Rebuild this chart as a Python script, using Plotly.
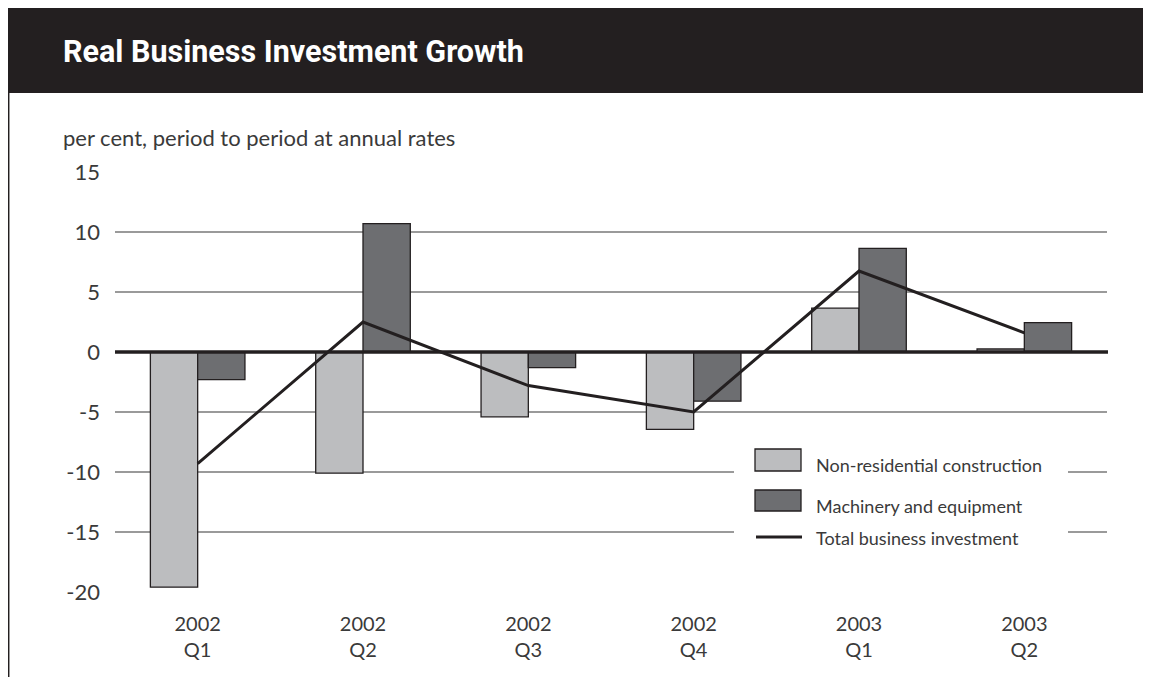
import plotly.graph_objects as go

categories = ["2002<br>Q1", "2002<br>Q2", "2002<br>Q3", "2002<br>Q4", "2003<br>Q1", "2003<br>Q2"]
non_residential = [-19.6, -10.1, -5.4, -6.45, 3.65, 0.25]
machinery = [-2.3, 10.7, -1.3, -4.1, 8.64, 2.45]
total = [-9.3, 2.5, -2.8, -5.0, 6.75, 1.6]
y_ticks = [15, 10, 5, 0, -5, -10, -15, -20]

OFF = 8  # page body margin
W, H = 1143, 669
L, R, T, B = 107, 44, 164, 85
pw, ph = W - L - R, H - T - B

def px(x):
    # screen x -> paper x
    return (x - OFF - L) / pw

def py(y):
    # screen y -> paper y
    return (H - B - (y - OFF)) / ph

def cx(x):
    # screen x -> category coordinate
    return (x - OFF - L) / (pw / len(categories)) - 0.5

def dy(y):
    # screen y -> data y
    return 15 - (y - OFF - T) / ph * 35

DARK = "#231f20"
TXT = "#3a3a3a"
LIGHT_BAR = "#bcbdbf"
DARK_BAR = "#6d6e71"

fig = go.Figure()
fig.add_trace(go.Bar(x=categories, y=non_residential, name="Non-residential construction",
                     marker=dict(color=LIGHT_BAR, line=dict(color=DARK, width=1.3))))
fig.add_trace(go.Bar(x=categories, y=machinery, name="Machinery and equipment",
                     marker=dict(color=DARK_BAR, line=dict(color=DARK, width=1.3))))
fig.add_trace(go.Scatter(x=categories, y=total, name="Total business investment", mode="lines",
                         line=dict(color=DARK, width=3)))

shapes = []
# title bar
shapes.append(dict(type="rect", xref="paper", yref="paper", x0=px(7), x1=px(1170), y0=py(93), y1=py(6),
                   fillcolor=DARK, line=dict(width=0), layer="above"))
# left border line
shapes.append(dict(type="line", xref="paper", yref="paper", x0=px(8.7), x1=px(8.7), y0=py(93), y1=py(700),
                   line=dict(color=DARK, width=1.5)))
# white mask behind legend (covers gridlines)
shapes.append(dict(type="rect", xref="x", yref="y", x0=cx(734), x1=cx(1068), y0=dy(556), y1=dy(440),
                   fillcolor="white", line=dict(width=0), layer="between"))
# legend swatches
shapes.append(dict(type="rect", xref="paper", yref="paper", x0=px(755), x1=px(801), y0=py(471), y1=py(449),
                   fillcolor=LIGHT_BAR, line=dict(color=DARK, width=1.3)))
shapes.append(dict(type="rect", xref="paper", yref="paper", x0=px(755), x1=px(801), y0=py(511), y1=py(490),
                   fillcolor=DARK_BAR, line=dict(color=DARK, width=1.3)))
shapes.append(dict(type="line", xref="paper", yref="paper", x0=px(756), x1=px(802), y0=py(537), y1=py(537),
                   line=dict(color=DARK, width=3)))
# zero line
shapes.append(dict(type="line", xref="paper", yref="y", x0=0, x1=1.001, y0=0, y1=0,
                   line=dict(color=DARK, width=3.5), layer="above"))

annotations = [
    dict(text="<b>Real Business Investment Growth</b>", xref="paper", yref="paper", x=px(61), y=py(52),
         xanchor="left", yanchor="middle", showarrow=False,
         font=dict(family="Roboto", size=30.5, color="white")),
    dict(text="per cent, period to period at annual rates", xref="paper", yref="paper", x=px(61), y=py(137),
         xanchor="left", yanchor="middle", showarrow=False,
         font=dict(family="Lato", size=22, color=TXT)),
]
for label, yc in [("Non-residential construction", 465), ("Machinery and equipment", 506),
                  ("Total business investment", 538)]:
    annotations.append(dict(text=label, xref="paper", yref="paper", x=px(814), y=py(yc),
                            xanchor="left", yanchor="middle", showarrow=False,
                            font=dict(family="Lato", size=18, color=TXT)))

fig.update_layout(
    width=W, height=H, autosize=False,
    margin=dict(l=L, r=R, t=T, b=B, pad=0),
    paper_bgcolor="white", plot_bgcolor="white",
    barmode="group", bargap=0.428, bargroupgap=0,
    showlegend=False,
    shapes=shapes, annotations=annotations,
    xaxis=dict(showgrid=False, showline=False, zeroline=False, ticks="",
               tickfont=dict(family="Lato", size=20, color=TXT), ticklabelstandoff=18),
    yaxis=dict(range=[-20, 15], tickvals=y_ticks, ticktext=[str(v) for v in y_ticks],
               showgrid=True, gridcolor="#9a9a9a", gridwidth=1.5, zeroline=False, showline=False,
               ticks="", tickfont=dict(family="Lato", size=22, color=TXT), ticklabelstandoff=14),
    font=dict(family="Lato", color=TXT),
)

fig.write_html("out.html")
